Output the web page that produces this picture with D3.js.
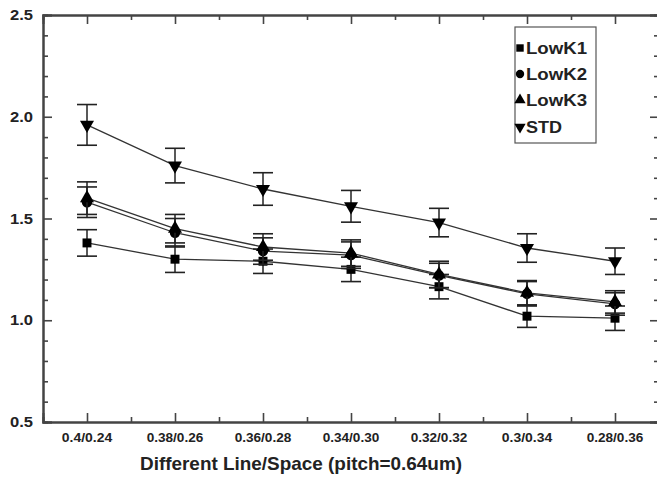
<!DOCTYPE html>
<html>
<head>
<meta charset="utf-8">
<script src="https://cdn.jsdelivr.net/npm/d3@7"></script>
<style>
  html, body { margin: 0; padding: 0; background: #fff; }
  svg { display: block; }
  text { font-family: "Liberation Sans", Arial, sans-serif; font-weight: bold; fill: #222; }
</style>
</head>
<body>
<svg id="chart" width="657" height="484"></svg>
<script>
const categories = ["0.4/0.24", "0.38/0.26", "0.36/0.28", "0.34/0.30", "0.32/0.32", "0.3/0.34", "0.28/0.36"];
const seriesNames = ["LowK1", "LowK2", "LowK3", "STD"];
const lowK1 = [1.38, 1.30, 1.29, 1.25, 1.165, 1.02, 1.01];
const lowK1Err = [0.065, 0.065, 0.06, 0.06, 0.06, 0.055, 0.06];
const lowK2 = [1.58, 1.43, 1.34, 1.32, 1.22, 1.13, 1.08];
const lowK2Err = [0.075, 0.07, 0.065, 0.065, 0.06, 0.06, 0.055];
const lowK3 = [1.60, 1.45, 1.36, 1.33, 1.225, 1.135, 1.09];
const lowK3Err = [0.08, 0.07, 0.065, 0.065, 0.065, 0.06, 0.055];
const std = [1.96, 1.76, 1.645, 1.56, 1.48, 1.355, 1.29];
const stdErr = [0.10, 0.085, 0.08, 0.078, 0.07, 0.07, 0.065];
const yMajorTicks = [0.5, 1.0, 1.5, 2.0, 2.5];
const xTitle = "Different Line/Space (pitch=0.64um)";

(function () {
const svg = d3.select("#chart");
const pLeft = 43, pRight = 659, pTop = 15, pBottom = 422;

const x = d3.scaleLinear().domain([0.5, categories.length + 0.5]).range([pLeft, pRight]);
const y = d3.scaleLinear().domain([0.5, 2.5]).range([pBottom, pTop]);

const axisColor = "#444";
const minorY = d3.range(0.6, 2.5, 0.1).map(v => +v.toFixed(1)).filter(v => !yMajorTicks.includes(v));
const catIdx = categories.map((c, i) => i + 1);
const minorX = d3.range(1.5, categories.length + 0.5, 1);

const gL = svg.append("g").attr("transform", `translate(${pLeft},0)`)
  .call(d3.axisRight(y).tickValues(yMajorTicks).tickSize(9).tickFormat(""));
const gLm = svg.append("g").attr("transform", `translate(${pLeft},0)`)
  .call(d3.axisRight(y).tickValues(minorY).tickSize(5).tickFormat(""));
const gR = svg.append("g").attr("transform", `translate(${pRight},0)`)
  .call(d3.axisLeft(y).tickValues(yMajorTicks).tickSize(9).tickFormat(""));
const gRm = svg.append("g").attr("transform", `translate(${pRight},0)`)
  .call(d3.axisLeft(y).tickValues(minorY).tickSize(5).tickFormat(""));
const gB = svg.append("g").attr("transform", `translate(0,${pBottom})`)
  .call(d3.axisTop(x).tickValues(catIdx).tickSize(9).tickFormat(""));
const gBm = svg.append("g").attr("transform", `translate(0,${pBottom})`)
  .call(d3.axisTop(x).tickValues(minorX).tickSize(5).tickFormat(""));
const gT = svg.append("g").attr("transform", `translate(0,${pTop})`)
  .call(d3.axisBottom(x).tickValues(catIdx).tickSize(9).tickFormat(""));
const gTm = svg.append("g").attr("transform", `translate(0,${pTop})`)
  .call(d3.axisBottom(x).tickValues(minorX).tickSize(5).tickFormat(""));

[gL, gLm, gR, gRm, gB, gBm, gT, gTm].forEach(g => {
  g.selectAll(".domain").attr("stroke", axisColor).attr("stroke-width", 2);
  g.selectAll(".tick line").attr("stroke", axisColor).attr("stroke-width", 1.6);
});

svg.append("g").selectAll("text").data(yMajorTicks).join("text")
  .attr("x", 33).attr("y", d => y(d) + 5)
  .attr("text-anchor", "end")
  .attr("font-size", 14)
  .attr("textLength", 23).attr("lengthAdjust", "spacingAndGlyphs")
  .attr("fill", "#333")
  .text(d => d.toFixed(1));

svg.append("g").selectAll("text").data(categories).join("text")
  .attr("x", (d, i) => x(i + 1)).attr("y", 442)
  .attr("text-anchor", "middle")
  .attr("font-size", 13.5)
  .attr("textLength", d => d.length * 6.3).attr("lengthAdjust", "spacingAndGlyphs")
  .attr("fill", "#333")
  .text(d => d);

svg.append("text")
  .attr("x", 301).attr("y", 470)
  .attr("text-anchor", "middle")
  .attr("font-size", 19)
  .attr("textLength", 322).attr("lengthAdjust", "spacingAndGlyphs")
  .text(xTitle);

const series = [
  { name: seriesNames[0], vals: lowK1, err: lowK1Err, sym: d3.symbolSquare, size: 80, rot: 0 },
  { name: seriesNames[1], vals: lowK2, err: lowK2Err, sym: d3.symbolCircle, size: 85, rot: 0 },
  { name: seriesNames[2], vals: lowK3, err: lowK3Err, sym: d3.symbolTriangle, size: 85, rot: 0 },
  { name: seriesNames[3], vals: std, err: stdErr, sym: d3.symbolTriangle, size: 85, rot: 180 }
];

const line = d3.line().x((d, i) => x(i + 1)).y(d => y(d));
const capW = 10;

series.forEach(s => {
  svg.append("path").datum(s.vals)
    .attr("d", line).attr("fill", "none")
    .attr("stroke", "#333").attr("stroke-width", 1.3);
});

series.forEach(s => {
  const g = svg.append("g");
  s.vals.forEach((v, i) => {
    const cx = x(i + 1), hi = y(v + s.err[i]), lo = y(v - s.err[i]);
    g.append("line").attr("x1", cx).attr("x2", cx).attr("y1", hi).attr("y2", lo)
      .attr("stroke", "#222").attr("stroke-width", 1.5);
    g.append("line").attr("x1", cx - capW).attr("x2", cx + capW).attr("y1", hi).attr("y2", hi)
      .attr("stroke", "#222").attr("stroke-width", 1.6);
    g.append("line").attr("x1", cx - capW).attr("x2", cx + capW).attr("y1", lo).attr("y2", lo)
      .attr("stroke", "#222").attr("stroke-width", 1.6);
  });
  g.selectAll("path.m").data(s.vals).join("path")
    .attr("class", "m")
    .attr("d", d3.symbol().type(s.sym).size(s.size))
    .attr("transform", (d, i) => `translate(${x(i + 1)},${y(d)}) rotate(${s.rot})`)
    .attr("fill", "#000");
});

const leg = svg.append("g");
leg.append("rect").attr("x", 515).attr("y", 27).attr("width", 81).attr("height", 116)
  .attr("fill", "#fff").attr("stroke", "#555").attr("stroke-width", 1.2);
const legY = [48, 74, 100, 127];
series.forEach((s, i) => {
  leg.append("path")
    .attr("d", d3.symbol().type(s.sym).size(55))
    .attr("transform", `translate(520,${legY[i]}) rotate(${s.rot})`)
    .attr("fill", "#000");
  leg.append("text").attr("x", 526).attr("y", legY[i] + 6)
    .attr("font-size", 16)
    .attr("textLength", s.name.length === 5 ? 61 : 36).attr("lengthAdjust", "spacingAndGlyphs")
    .text(s.name);
});
})();
</script>
</body>
</html>
